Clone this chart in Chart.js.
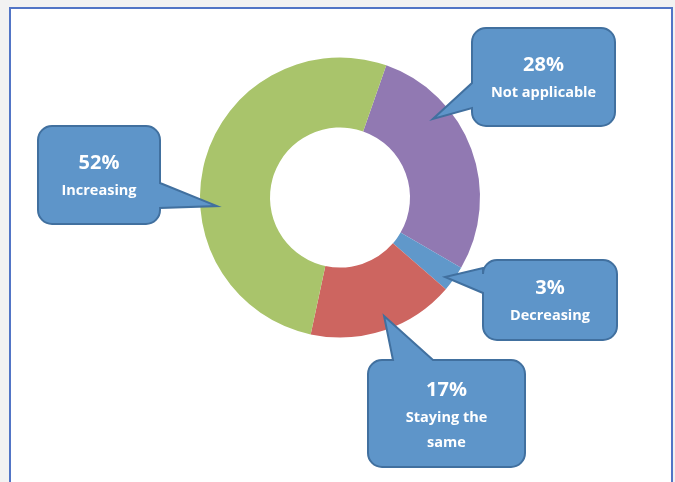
<!DOCTYPE html>
<html>
<head>
<meta charset="utf-8">
<script src="https://cdn.jsdelivr.net/npm/chart.js@4/dist/chart.umd.min.js"></script>
<style>
  html, body { margin: 0; padding: 0; }
  body { width: 675px; height: 482px; background: #f2f2f2; position: relative; overflow: hidden; }
  .frame { position: absolute; left: 9px; top: 7px; width: 660px; height: 500px; background: #fff; border: 2px solid #5275c6; }
  .wrap { position: absolute; left: 0; top: 0; width: 675px; height: 482px; }
</style>
</head>
<body>
<div class="frame"></div>
<div class="wrap"><canvas id="trend-chart"></canvas></div>
<script>
// Survey answers, in percent
const categories = ['Not applicable', 'Decreasing', 'Staying the same', 'Increasing'];
const shares = [28, 3, 17, 52];
const sliceColors = ['#9179b2', '#6098ca', '#cd6560', '#a9c46b'];

// Callout boxes: rectangle, where the pointer leaves the box, and where its tip sits
// (tip given as angle clockwise from 12 o'clock and distance from the ring centre)
const callouts = [
  { box: [472, 28, 143, 98], side: 'left', base: [83, 108], tipAngle: 49.8, tipRadius: 121.6, textTop: 37, wrap: 130 },
  { box: [483, 260, 134, 80], side: 'left', base: [268, 293], tipAngle: 127.1, tipRadius: 131.7, textTop: 28, wrap: 130 },
  { box: [368, 360, 157, 107], side: 'top', base: [393, 433], tipAngle: 159.6, tipRadius: 126.4, textTop: 30, wrap: 100 },
  { box: [38, 126, 122, 98], side: 'right', base: [183, 208], tipAngle: 266, tipRadius: 123.3, textTop: 37, wrap: 130 }
];

function wrapText(ctx, text, maxWidth) {
  const words = text.split(' ');
  const lines = [];
  let line = '';
  words.forEach(w => {
    const test = line ? line + ' ' + w : w;
    if (line && ctx.measureText(test).width > maxWidth) {
      lines.push(line);
      line = w;
    } else {
      line = test;
    }
  });
  if (line) lines.push(line);
  return lines;
}

function calloutPath(ctx, c, tip) {
  const [x, y, w, h] = c.box;
  const r = 14;
  const [b1, b2] = c.base;
  ctx.beginPath();
  ctx.moveTo(x + r, y);
  if (c.side === 'top') {
    ctx.lineTo(b1, y); ctx.lineTo(tip.x, tip.y); ctx.lineTo(b2, y);
  }
  ctx.arcTo(x + w, y, x + w, y + h, r);
  if (c.side === 'right') {
    ctx.lineTo(x + w, b1); ctx.lineTo(tip.x, tip.y); ctx.lineTo(x + w, b2);
  }
  ctx.arcTo(x + w, y + h, x, y + h, r);
  ctx.arcTo(x, y + h, x, y, r);
  if (c.side === 'left') {
    ctx.lineTo(x, b2); ctx.lineTo(tip.x, tip.y); ctx.lineTo(x, b1);
  }
  ctx.arcTo(x, y, x + w, y, r);
  ctx.closePath();
}

const calloutPlugin = {
  id: 'callouts',
  afterDraw(chart) {
    const ctx = chart.ctx;
    const arc = chart.getDatasetMeta(0).data[0];
    const cx = arc.x, cy = arc.y;
    ctx.save();
    callouts.forEach((c, i) => {
      const a = c.tipAngle * Math.PI / 180;
      const tip = { x: cx + c.tipRadius * Math.sin(a), y: cy - c.tipRadius * Math.cos(a) };
      calloutPath(ctx, c, tip);
      ctx.fillStyle = '#5e95c9';
      ctx.fill();
      ctx.lineWidth = 2;
      ctx.strokeStyle = '#41709f';
      ctx.stroke();

      const [x, y, w] = c.box;
      const mid = x + w / 2;
      ctx.fillStyle = '#ffffff';
      ctx.textAlign = 'center';
      ctx.textBaseline = 'middle';
      ctx.font = 'bold 20px "Open Sans"';
      ctx.fillText(shares[i] + '%', mid, y + c.textTop);
      ctx.font = 'bold 14.5px "Open Sans"';
      const lines = wrapText(ctx, categories[i], c.wrap);
      lines.forEach((ln, j) => {
        ctx.fillText(ln, mid, y + c.textTop + 28 + j * 25);
      });
    });
    ctx.restore();
  }
};

new Chart(document.getElementById('trend-chart').getContext('2d'), {
  type: 'doughnut',
  data: {
    labels: categories,
    datasets: [{
      data: shares,
      backgroundColor: sliceColors,
      borderWidth: 0
    }]
  },
  options: {
    responsive: true,
    maintainAspectRatio: false,
    animation: false,
    cutout: '50%',
    rotation: 19.3,
    layout: { padding: { top: 57.5, bottom: 144.5, left: 5, right: 0 } },
    plugins: {
      legend: { display: false },
      tooltip: { enabled: false }
    }
  },
  plugins: [calloutPlugin]
});
</script>
</body>
</html>
